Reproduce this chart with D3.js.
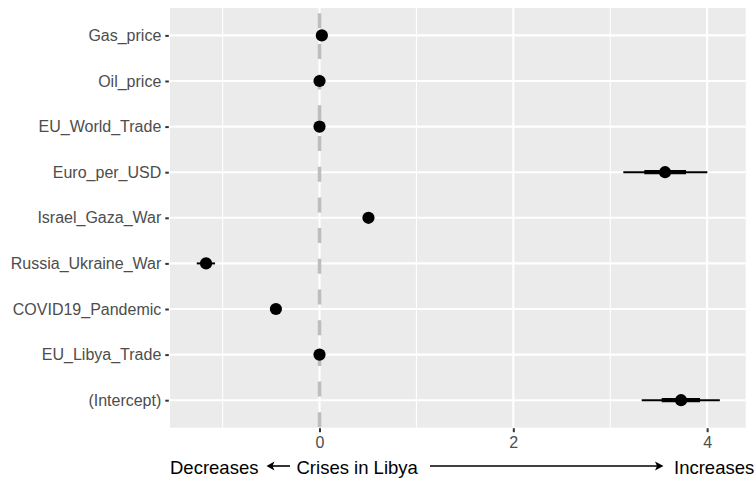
<!DOCTYPE html>
<html>
<head>
<meta charset="utf-8">
<script src="https://cdn.jsdelivr.net/npm/d3@7"></script>
<style>
  html, body { margin: 0; padding: 0; background: #ffffff; }
  svg { display: block; }
</style>
</head>
<body>
<svg id="chart" width="755" height="481"></svg>
<script>
// ---- data ----
const terms = ["Gas_price", "Oil_price", "EU_World_Trade", "Euro_per_USD", "Israel_Gaza_War",
               "Russia_Ukraine_War", "COVID19_Pandemic", "EU_Libya_Trade", "(Intercept)"];
const estimate = [0.024, 0.0, 0.0, 3.566, 0.505, -1.171, -0.45, 0.0, 3.731];
const outerLow  = [0.000, -0.02, -0.02, 3.135, 0.470, -1.267, -0.49, -0.02, 3.325];
const outerHigh = [0.048,  0.02,  0.02, 4.002, 0.540, -1.078, -0.41,  0.02, 4.131];
const innerLow  = [0.012, -0.01, -0.01, 3.352, 0.485, -1.220, -0.47, -0.01, 3.531];
const innerHigh = [0.036,  0.01,  0.01, 3.782, 0.525, -1.125, -0.43,  0.01, 3.927];
const xTicks = [0, 2, 4];
const xMinor = [-1, 1, 3];
const xDomain = [-1.543, 4.398];
const titleLeft = "Decreases";
const titleMid = "Crises in Libya";
const titleRight = "Increases";

const rows = terms.map((t, i) => ({
  term: t, est: estimate[i], lo: outerLow[i], hi: outerHigh[i], ilo: innerLow[i], ihi: innerHigh[i]
}));

// ---- layout ----
const svg = d3.select("#chart");
const panel = { left: 170, right: 745.7, top: 8, bottom: 427.7 };

const x = d3.scaleLinear().domain(xDomain).range([panel.left, panel.right]);
const y = d3.scalePoint().domain(terms).range([35.4, 400.2]);

// panel background
svg.append("rect")
  .attr("x", panel.left).attr("y", panel.top)
  .attr("width", panel.right - panel.left).attr("height", panel.bottom - panel.top)
  .attr("fill", "#ebebeb");

// minor vertical gridlines
svg.append("g").selectAll("line").data(xMinor).join("line")
  .attr("x1", d => x(d)).attr("x2", d => x(d))
  .attr("y1", panel.top).attr("y2", panel.bottom)
  .attr("stroke", "#ffffff").attr("stroke-width", 1.1);

// major vertical gridlines
svg.append("g").selectAll("line").data(xTicks).join("line")
  .attr("x1", d => x(d)).attr("x2", d => x(d))
  .attr("y1", panel.top).attr("y2", panel.bottom)
  .attr("stroke", "#ffffff").attr("stroke-width", 2.1);

// major horizontal gridlines
svg.append("g").selectAll("line").data(terms).join("line")
  .attr("x1", panel.left).attr("x2", panel.right)
  .attr("y1", d => y(d)).attr("y2", d => y(d))
  .attr("stroke", "#ffffff").attr("stroke-width", 2.1);

// dashed zero line
svg.append("line")
  .attr("x1", x(0)).attr("x2", x(0))
  .attr("y1", panel.top).attr("y2", panel.bottom)
  .attr("stroke", "#bdbdbd").attr("stroke-width", 3.5)
  .attr("stroke-dasharray", "15,15.7")
  .attr("stroke-dashoffset", 25.5);

// outer intervals
svg.append("g").selectAll("line").data(rows).join("line")
  .attr("x1", d => x(d.lo)).attr("x2", d => x(d.hi))
  .attr("y1", d => y(d.term)).attr("y2", d => y(d.term))
  .attr("stroke", "#000").attr("stroke-width", 2);

// inner intervals
svg.append("g").selectAll("line").data(rows).join("line")
  .attr("x1", d => x(d.ilo)).attr("x2", d => x(d.ihi))
  .attr("y1", d => y(d.term)).attr("y2", d => y(d.term))
  .attr("stroke", "#000").attr("stroke-width", 4.2);

// points
svg.append("g").selectAll("circle").data(rows).join("circle")
  .attr("cx", d => x(d.est)).attr("cy", d => y(d.term))
  .attr("r", 6.1).attr("fill", "#000");

const aFont = "'Liberation Sans', Arial, Helvetica, sans-serif";

// y axis
const yAxis = d3.axisLeft(y).tickSize(3.5).tickPadding(4);
const gy = svg.append("g").attr("transform", `translate(${panel.left - 1.2},0)`).call(yAxis);
gy.select(".domain").remove();
gy.selectAll(".tick line").attr("stroke", "#333333").attr("stroke-width", 2);
gy.selectAll(".tick text")
  .attr("fill", "#4d4d4d")
  .style("font-family", aFont)
  .style("font-size", "16px");

// x axis
const xAxis = d3.axisBottom(x).tickValues(xTicks).tickFormat(d3.format("d")).tickSize(4).tickPadding(4);
const gx = svg.append("g").attr("transform", `translate(0,${panel.bottom + 0.5})`).call(xAxis);
gx.select(".domain").remove();
gx.selectAll(".tick line").attr("stroke", "#333333").attr("stroke-width", 2);
gx.selectAll(".tick text")
  .attr("fill", "#4d4d4d")
  .style("font-family", aFont)
  .style("font-size", "16px");

// x title with arrows
const tBase = 474;
const arrowY = 466;
svg.append("text").attr("x", 170).attr("y", tBase)
  .style("font-family", aFont).style("font-size", "18.5px").attr("fill", "#000")
  .text(titleLeft);
svg.append("text").attr("x", 296.5).attr("y", tBase)
  .style("font-family", aFont).style("font-size", "18.5px").attr("fill", "#000")
  .text(titleMid);
svg.append("text").attr("x", 674).attr("y", tBase)
  .style("font-family", aFont).style("font-size", "18.5px").attr("fill", "#000")
  .text(titleRight);

// left arrow
svg.append("line").attr("x1", 290).attr("x2", 270).attr("y1", arrowY).attr("y2", arrowY)
  .attr("stroke", "#000").attr("stroke-width", 1.6);
svg.append("path")
  .attr("d", `M266.5,${arrowY} L274.5,${arrowY - 4.5} L272.5,${arrowY} L274.5,${arrowY + 4.5} Z`)
  .attr("fill", "#000");

// right arrow
svg.append("line").attr("x1", 430).attr("x2", 658).attr("y1", arrowY).attr("y2", arrowY)
  .attr("stroke", "#000").attr("stroke-width", 1.6);
svg.append("path")
  .attr("d", `M663.5,${arrowY} L655,${arrowY - 4.5} L657,${arrowY} L655,${arrowY + 4.5} Z`)
  .attr("fill", "#000");
</script>
</body>
</html>
